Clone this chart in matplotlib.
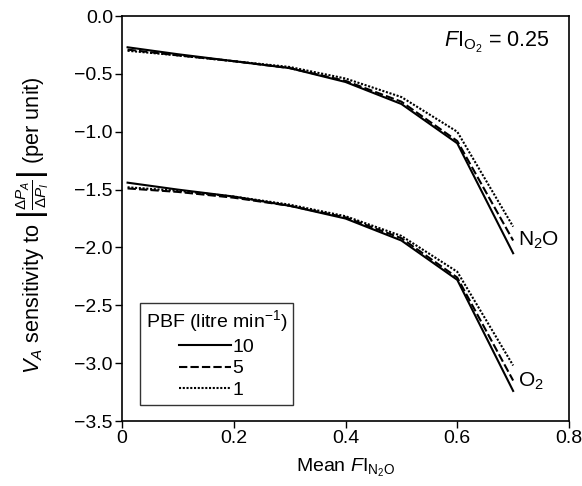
import matplotlib
matplotlib.use("Agg")
import matplotlib.pyplot as plt

plt.rcParams['font.family'] = ['Liberation Sans', 'DejaVu Sans']
plt.rcParams['mathtext.fontset'] = 'custom'
plt.rcParams['mathtext.rm'] = 'Liberation Sans'
plt.rcParams['mathtext.it'] = 'Liberation Sans:italic'
plt.rcParams['mathtext.bf'] = 'Liberation Sans:bold'

x = [0.01, 0.1, 0.2, 0.3, 0.4, 0.5, 0.6, 0.7]
pbf_labels = ['10', '5', '1']
n2o_10 = [-0.27, -0.33, -0.39, -0.45, -0.57, -0.76, -1.10, -2.05]
n2o_5 = [-0.29, -0.34, -0.39, -0.45, -0.56, -0.74, -1.08, -1.94]
n2o_1 = [-0.30, -0.34, -0.39, -0.44, -0.54, -0.70, -1.00, -1.82]
o2_10 = [-1.44, -1.50, -1.56, -1.64, -1.75, -1.94, -2.28, -3.24]
o2_5 = [-1.49, -1.52, -1.57, -1.64, -1.74, -1.92, -2.26, -3.15]
o2_1 = [-1.48, -1.51, -1.56, -1.63, -1.73, -1.90, -2.21, -3.02]

styles = ['-', (0, (4, 1.5)), (0, (1, 0.8))]

fig = plt.figure(figsize=(5.82, 4.86), dpi=100)
ax = fig.add_axes([0.2096, 0.1337, 0.7681, 0.8333])

for ys, ls, lab in zip([n2o_10, n2o_5, n2o_1], styles, pbf_labels):
    ax.plot(x, ys, color='black', lw=1.5, ls=ls, label=lab)
for ys, ls in zip([o2_10, o2_5, o2_1], styles):
    ax.plot(x, ys, color='black', lw=1.5, ls=ls)

ax.set_xlim(0, 0.8)
ax.set_ylim(-3.5, 0.0)
ax.set_xticks([0, 0.2, 0.4, 0.6, 0.8])
ax.set_xticklabels(['0', '0.2', '0.4', '0.6', '0.8'])
ax.set_yticks([0.0, -0.5, -1.0, -1.5, -2.0, -2.5, -3.0, -3.5])
ax.set_yticklabels(['0.0', '\u22120.5', '\u22121.0', '\u22121.5', '\u22122.0', '\u22122.5', '\u22123.0', '\u22123.5'])
ax.tick_params(direction='out', length=5, width=1, labelsize=14, colors='black', pad=1.5)
for s in ax.spines.values():
    s.set_linewidth(1.2)

ax.set_xlabel(r'Mean $F\mathrm{I}_{\mathrm{N_2O}}$', fontsize=14, labelpad=7)
ax.set_ylabel(r'$V_A$ sensitivity to $\left|\frac{\Delta P_A}{\Delta P_I}\right|$ (per unit)', fontsize=15.7)
ax.yaxis.set_label_coords(-0.158, 0.484)

ax.text(0.576, -0.225, r'$F\mathrm{I}_{\mathrm{O_2}}$ = 0.25', fontsize=15.5, va='center', ha='left')
ax.text(0.708, -1.94, r'N$_\mathrm{2}$O', fontsize=15, va='center', ha='left')
ax.text(0.708, -3.16, r'O$_\mathrm{2}$', fontsize=15, va='center', ha='left')

leg = ax.legend(title='PBF (litre min$^{-1}$)', loc='lower left', bbox_to_anchor=(0.040, 0.04),
                fontsize=14, title_fontsize=14, frameon=True, fancybox=False,
                edgecolor='black', markerfirst=True, handlelength=2.7, handletextpad=0.05,
                borderpad=0.3, labelspacing=0.2, borderaxespad=0)
leg.get_frame().set_linewidth(1.0)
leg._legend_box.align = 'center'
fig.savefig('out.png', dpi=100)
